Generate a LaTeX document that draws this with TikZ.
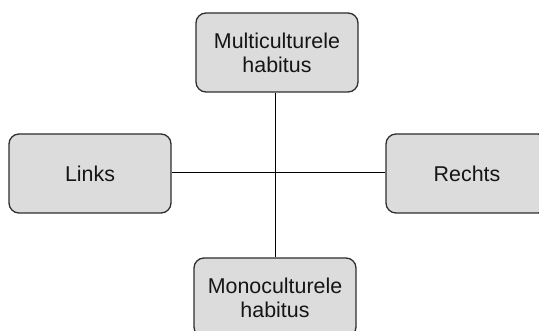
\documentclass[tikz,border=0pt]{standalone}
\usepackage{fontspec}
\setmainfont{Liberation Sans}
\definecolor{boxfill}{HTML}{DCDCDC}
\definecolor{boxline}{HTML}{2E2E2E}
\definecolor{txt}{HTML}{151515}
\begin{document}
\begin{tikzpicture}[x=1pt,y=-1pt,
  box/.style={draw=boxline, line width=1.3pt, fill=boxfill, rounded corners=10pt,
    minimum width=162pt, minimum height=79pt, inner sep=0pt, align=center,
    text=txt, font=\fontsize{21.4}{24}\selectfont},
  conn/.style={draw=black, line width=0.9pt}]
\useasboundingbox (0,0) rectangle (539,331);
\coordinate (c) at (275.5,172);
\node[box] (top) at (277,52.5) {Multiculturele\\habitus};
\node[box] (left) at (90,173.5) {Links};
\node[box] (right) at (467,173.5) {Rechts};
\node[box] (bot) at (275,297.5) {Monoculturele\\habitus};
\draw[conn] (top.south -| c) -- (bot.north -| c);
\draw[conn] (left.east |- c) -- (right.west |- c);
\end{tikzpicture}
\end{document}
